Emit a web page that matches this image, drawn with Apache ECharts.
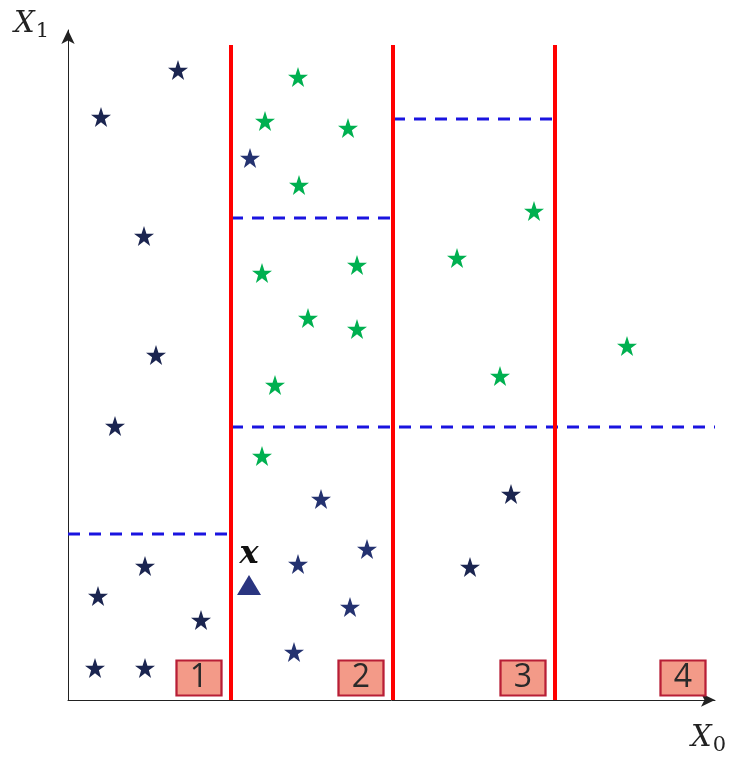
<!DOCTYPE html>
<html>
<head>
<meta charset="utf-8">
<script src="https://cdn.jsdelivr.net/npm/echarts@6/dist/echarts.min.js"></script>
<style>html,body{margin:0;padding:0;background:#fff;}#c{width:740px;height:767px;}</style>
</head>
<body>
<div id="c"></div>
<script>
// Data (x0, x1) in chart units
const darkStars = [
  [110,630],[33,583],[76,464],[88,345],[47,274],[77,134],[30,104],[133,80],[27,32],[77,32],
  [402,133],[443,206]
];
const blueStars = [
  [182,542],[253,201],[299,151],[230,136],[282,93],[226,48]
];
const greenStars = [
  [230,623],[197,579],[280,572],[231,515],[466,489],[194,427],[289,435],[389,442],
  [240,382],[289,371],[559,354],[207,315],[432,324],[194,244]
];
const queryPoint = [[181,115]];
const splitsX0 = [163,325,487];           // red vertical splits
const splitTopX1 = 655;
const dashedSplits = [                      // [x0 start, x0 end, x1]
  [0,163,166],[163,325,482],[325,487,581],[163,647,273]
];
const regionLabels = ['1','2','3','4'];
const regionRight = [163,325,487,647];
const xMax = 647, yMax = 670;

const starPath = 'path://M50,0 L61.8,35.1 L98.1,35.1 L68.7,56.8 L79.4,91.9 L50,70.5 L20.6,91.9 L31.3,56.8 L1.9,35.1 L38.2,35.1 Z';

const series = [];
splitsX0.forEach(x => {
  series.push({type:'line', data:[[x,0],[x,splitTopX1]], symbol:'none',
    lineStyle:{color:'#ff0000', width:4}, z:3, silent:true});
});
dashedSplits.forEach(d => {
  series.push({type:'line', data:[[d[0],d[2]],[d[1],d[2]]], symbol:'none',
    lineStyle:{color:'#1a14e0', width:2.8, type:[12,9]}, z:2, silent:true});
});
series.push({type:'scatter', data:darkStars, symbol:starPath, symbolSize:20,
  itemStyle:{color:'#1b2550', opacity:1}, z:5});
series.push({type:'scatter', data:blueStars, symbol:starPath, symbolSize:20,
  itemStyle:{color:'#243270', opacity:1}, z:5});
series.push({type:'scatter', data:greenStars, symbol:starPath, symbolSize:20,
  itemStyle:{color:'#00b050', opacity:1}, z:5});
series.push({type:'scatter', data:queryPoint, symbol:'triangle', symbolSize:[24,20],
  itemStyle:{color:'#2a3580', opacity:1}, z:5,
  label:{show:true, position:'top', distance:4, formatter:'x',
    fontFamily:'DejaVu Serif', fontStyle:'italic', fontWeight:'bold', fontSize:32, color:'#111'}});
series.push({type:'scatter', data:regionLabels.map((l,i)=>[regionRight[i]-32, 22, l]),
  symbol:'rect', symbolSize:[45,35],
  itemStyle:{color:'#f39a88', borderColor:'#b81e36', borderWidth:2, opacity:1}, z:6,
  label:{show:true, position:'inside', formatter:p=>p.data[2], fontFamily:'Open Sans',
    fontSize:32, color:'#2a2a2a'}});

const chart = echarts.init(document.getElementById('c'));
chart.setOption({
  animation:false,
  grid:{left:68, right:25, top:30, bottom:67},
  xAxis:{type:'value', min:0, max:xMax, splitLine:{show:false}, axisTick:{show:false},
    axisLabel:{show:false},
    axisLine:{onZero:false, symbol:['none','arrow'], symbolSize:[10,14], lineStyle:{color:'#222', width:1}}},
  yAxis:{type:'value', min:0, max:yMax, splitLine:{show:false}, axisTick:{show:false},
    axisLabel:{show:false},
    axisLine:{onZero:false, symbol:['none','arrow'], symbolSize:[10,14], lineStyle:{color:'#222', width:1}}},
  graphic:[
    {type:'text', left:14, top:10, style:{text:'{a|X}{b|1}', rich:{
      a:{fontFamily:'DejaVu Serif', fontStyle:'italic', fontSize:29, fill:'#222'},
      b:{fontFamily:'DejaVu Serif', fontSize:21, fill:'#222', padding:[14,0,0,1]}}}},
    {type:'text', left:691, top:724, style:{text:'{a|X}{b|0}', rich:{
      a:{fontFamily:'DejaVu Serif', fontStyle:'italic', fontSize:29, fill:'#222'},
      b:{fontFamily:'DejaVu Serif', fontSize:21, fill:'#222', padding:[14,0,0,1]}}}}
  ],
  series:series
});
</script>
</body>
</html>
